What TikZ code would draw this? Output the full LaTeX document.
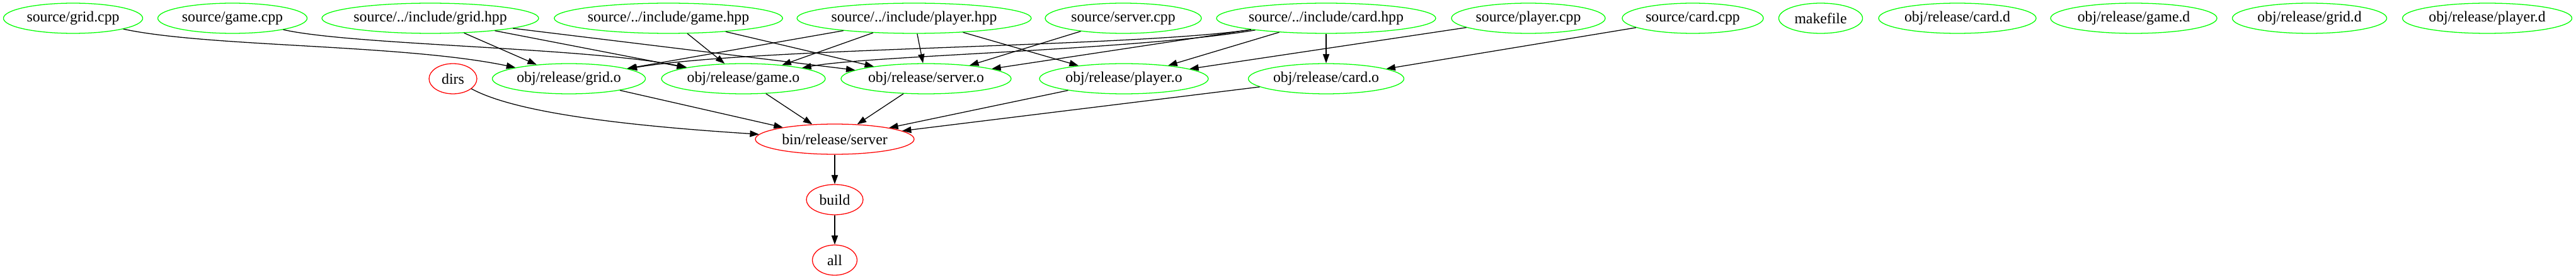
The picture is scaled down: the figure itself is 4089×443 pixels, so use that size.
\documentclass[tikz,border=0pt]{standalone}
\usepackage{fontspec}
\setmainfont{Liberation Serif}
\usetikzlibrary{arrows.meta, shapes.geometric}

\begin{document}
\begin{tikzpicture}[
  x=0.59pt, y=-0.59pt,
  every node/.style={font=\fontsize{14}{16}\selectfont, draw, ellipse,
    line width=0.75pt, minimum height=28.3pt, inner sep=0pt},
  dep/.style={draw=green},
  goal/.style={draw=red},
  >={Triangle[length=8.5pt, width=6pt]},
  every path/.style={line width=0.75pt}
]
  \useasboundingbox (0,0) rectangle (4089,443);

  \node[dep, minimum width=130.4pt] (gridcpp) at (116,29) {source/grid.cpp};
  \node[dep, minimum width=139.8pt] (gamecpp) at (369,29) {source/game.cpp};
  \node[dep, minimum width=203pt] (gridhpp) at (683,29) {source/../include/grid.hpp};
  \node[dep, minimum width=212.4pt] (gamehpp) at (1061,29) {source/../include/game.hpp};
  \node[dep, minimum width=216.5pt] (playerhpp) at (1451,29) {source/../include/player.hpp};
  \node[dep, minimum width=146.3pt] (servercpp) at (1783,29) {source/server.cpp};
  \node[dep, minimum width=205.3pt] (cardhpp) at (2105,29) {source/../include/card.hpp};
  \node[dep, minimum width=144pt] (playercpp) at (2426,29) {source/player.cpp};
  \node[dep, minimum width=132.2pt] (cardcpp) at (2687,29) {source/card.cpp};
  \node[dep, minimum width=78.5pt] (makefile) at (2890,29) {makefile};
  \node[dep, minimum width=147.5pt] (cardd) at (3107,29) {obj/release/card.d};
  \node[dep, minimum width=155.8pt] (gamed) at (3387,29) {obj/release/game.d};
  \node[dep, minimum width=144.6pt] (gridd) at (3666,29) {obj/release/grid.d};
  \node[dep, minimum width=158.7pt] (playerd) at (3948,29) {obj/release/player.d};

  \node[goal, minimum width=44.8pt] (dirs) at (719,125) {dirs};
  \node[dep, minimum width=143.4pt] (grido) at (903,125) {obj/release/grid.o};
  \node[dep, minimum width=153.4pt] (gameo) at (1180,125) {obj/release/game.o};
  \node[dep, minimum width=159.3pt] (servero) at (1470,125) {obj/release/server.o};
  \node[dep, minimum width=158.1pt] (playero) at (1784,125) {obj/release/player.o};
  \node[dep, minimum width=145.7pt] (cardo) at (2105,125) {obj/release/card.o};

  \node[goal, minimum width=148.7pt] (bin) at (1325,221) {bin/release/server};
  \node[goal, minimum width=53.1pt] (build) at (1325,317) {build};
  \node[goal, minimum width=41.9pt] (all) at (1325,413) {all};

  \draw[->] (gridcpp) .. controls (330,75) and (640,70) .. (grido);
  \draw[->] (gridhpp) -- (grido);
  \draw[->] (playerhpp) -- (grido);
  \draw[->] (cardhpp) .. controls (1800,75) and (1200,75) .. (grido);

  \draw[->] (gamecpp) .. controls (560,72) and (930,75) .. (gameo);
  \draw[->] (gridhpp) -- (gameo);
  \draw[->] (gamehpp) -- (gameo);
  \draw[->] (playerhpp) -- (gameo);
  \draw[->] (cardhpp) .. controls (1800,80) and (1380,88) .. (gameo);

  \draw[->] (gridhpp) -- (servero);
  \draw[->] (gamehpp) -- (servero);
  \draw[->] (playerhpp) -- (servero);
  \draw[->] (servercpp) -- (servero);
  \draw[->] (cardhpp) -- (servero);

  \draw[->] (playerhpp) -- (playero);
  \draw[->] (cardhpp) -- (playero);
  \draw[->] (playercpp) -- (playero);

  \draw[->] (cardhpp) -- (cardo);
  \draw[->] (cardcpp) -- (cardo);

  \draw[->] (dirs) .. controls (820,180) and (1000,200) .. (bin);
  \foreach \o in {grido, gameo, servero, playero, cardo}
    \draw[->] (\o) -- (bin);
  \draw[->] (bin) -- (build);
  \draw[->] (build) -- (all);
\end{tikzpicture}
\end{document}
